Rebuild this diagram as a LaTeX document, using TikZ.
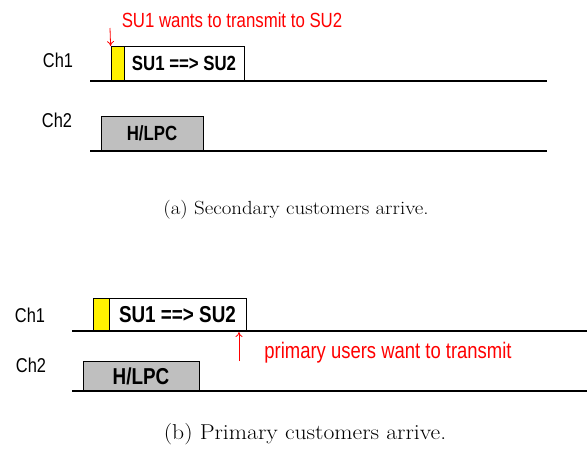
\documentclass[tikz,border=0pt]{standalone}
\usepackage{fontspec}
\newfontfamily\narrowsf[FakeStretch=0.82]{Liberation Sans}
\newfontfamily\widerm[FakeStretch=1.1]{Latin Modern Roman}
\usepackage{xcolor}
\usepackage{tikz}
\usetikzlibrary{arrows.meta}

\begin{document}
\begin{tikzpicture}[x=1pt,y=-1pt,
                    slot/.style={draw,line width=0.8pt,inner sep=0pt,font=\narrowsf\bfseries\fontsize{20.5}{22}\selectfont},
                    chan/.style={font=\narrowsf\fontsize{20}{22}\selectfont},
                    note/.style={red,font=\narrowsf\fontsize{20.5}{22}\selectfont},
                    figcap/.style={font=\widerm\fontsize{19}{21}\selectfont},
                    flag/.style={red,line width=0.8pt,-{To[length=5pt,width=7pt]}}]
                    \useasboundingbox (0,0) rectangle (587,456);
                    \node[chan] (cha1) at (58,60) {Ch1};
                    \node[slot,fill=yellow,minimum width=13pt,minimum height=34pt] (ctla) at (117.5,63.5) {};
                    \node[slot,fill=white,minimum width=120pt,minimum height=34pt] (sua) at (184,63.5) {SU1 ==> SU2};
                    \draw[line width=1.2pt] (90,81) -- (547,81);
                    \node[note] (wanta) at (232,20) {SU1 wants to transmit to SU2};
                    \coordinate (fa) at (110,28);
                    \draw[flag] (fa) -- (ctla.north west);
                    \node[chan] (cha2) at (57,120) {Ch2};
                    \node[slot,fill=gray!50,minimum width=102pt,minimum height=35pt] (pua) at (152,133.5) {H/LPC};
                    \draw[line width=1.2pt] (90,151) -- (547,151);
                    \node[figcap] (capa) at (296,210) {(a) Secondary customers arrive.};
                    \node[chan] (chb1) at (30,315) {Ch1};
                    \node[slot,fill=yellow,minimum width=16pt,minimum height=33pt] (ctlb) at (101,314.5) {};
                    \node[slot,fill=white,minimum width=137pt,minimum height=33pt,font=\narrowsf\bfseries\fontsize{23}{24}\selectfont] (sub) at (177.5,314.5) {SU1 ==> SU2};
                    \draw[line width=1.2pt] (72,331) -- (587,331);
                    \coordinate (fb) at (239,361);
                    \draw[flag] (fb) -- (239,332);
                    \node[note,font=\narrowsf\fontsize{22.5}{24}\selectfont] (wantb) at (388,353) {primary users want to transmit};
                    \node[chan] (chb2) at (31,365) {Ch2};
                    \node[slot,fill=gray!50,minimum width=116pt,minimum height=30pt,font=\narrowsf\bfseries\fontsize{23}{24}\selectfont] (pub) at (141,376) {H/LPC};
                    \draw[line width=1.2pt] (72,391) -- (587,391);
                    \node[figcap,font=\widerm\fontsize{21.5}{23}\selectfont] (capb) at (305,434) {(b) Primary customers arrive.};
                \end{tikzpicture}
\end{document}
